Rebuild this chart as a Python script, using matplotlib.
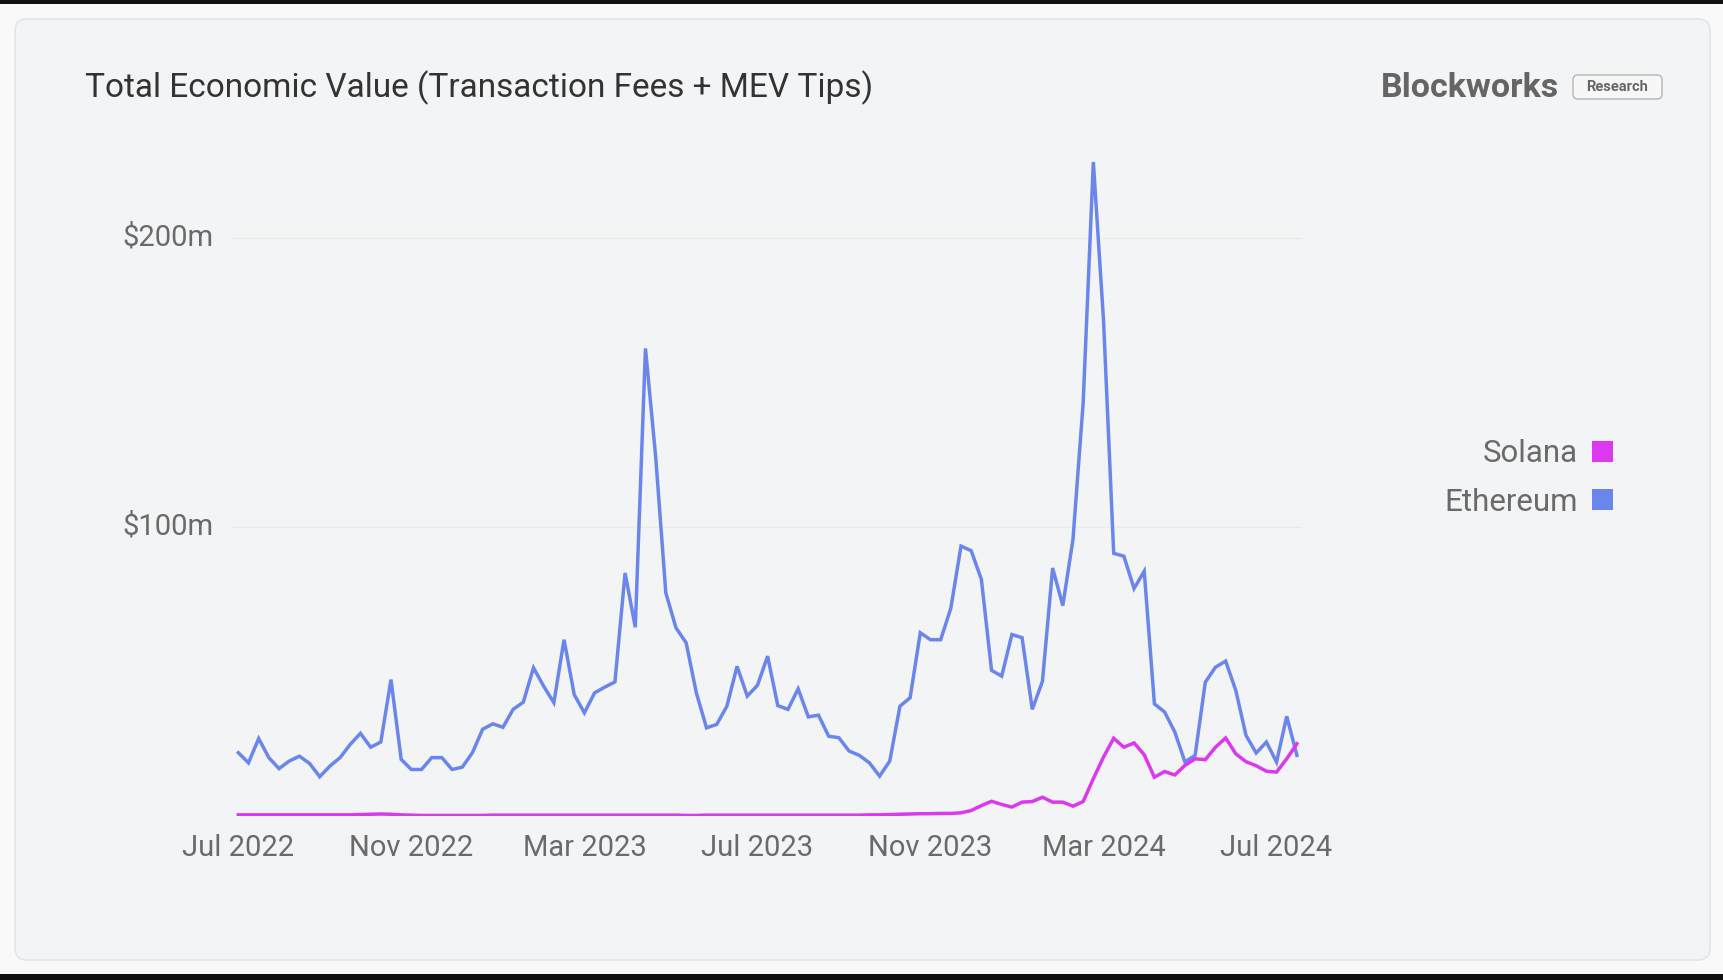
import matplotlib
matplotlib.use("Agg")
import matplotlib.pyplot as plt
import matplotlib.transforms as mtransforms
from matplotlib.patches import FancyBboxPatch, Rectangle, Patch
import numpy as np

# ================= DATA =================
# weekly values, $m, Jul 2022 -> Jul 2024 (one point per week)
ETHEREUM = [
    22.0, 18.5, 26.9, 20.3, 16.5, 19.1, 20.8, 18.3, 13.7, 17.4,
    20.3, 24.9, 28.7, 23.9, 25.7, 47.3, 19.7, 16.2, 16.2, 20.3,
    20.3, 16.2, 17.0, 22.0, 30.1, 32.0, 30.8, 37.0, 39.5, 51.4,
    45.0, 39.3, 61.1, 42.1, 35.8, 42.7, 44.7, 46.5, 84.2, 65.4,
    161.9, 124.5, 77.3, 65.2, 60.0, 42.7, 30.6, 31.8, 38.1, 51.9,
    41.6, 45.3, 55.4, 38.3, 37.0, 44.1, 34.4, 35.0, 27.7, 27.2,
    22.6, 21.1, 18.5, 13.9, 19.1, 38.1, 41.0, 63.5, 61.1, 61.1,
    72.0, 93.5, 91.9, 82.0, 50.5, 48.5, 62.9, 61.8, 37.0, 46.7,
    85.9, 72.9, 95.8, 143.0, 226.4, 171.7, 91.0, 90.0, 78.8, 84.8,
    38.9, 36.1, 29.2, 18.8, 21.1, 46.4, 51.6, 53.7, 43.5, 28.0,
    21.9, 25.7, 18.8, 34.6, 21.1,
]

SOLANA = [
    0.5, 0.5, 0.5, 0.5, 0.5, 0.5, 0.5, 0.5, 0.5, 0.5,
    0.5, 0.5, 0.6, 0.7, 0.8, 0.7, 0.5, 0.4, 0.3, 0.3,
    0.3, 0.3, 0.3, 0.3, 0.3, 0.4, 0.4, 0.4, 0.4, 0.4,
    0.4, 0.4, 0.4, 0.4, 0.4, 0.4, 0.4, 0.4, 0.4, 0.4,
    0.4, 0.4, 0.4, 0.4, 0.3, 0.3, 0.4, 0.4, 0.4, 0.4,
    0.4, 0.4, 0.4, 0.4, 0.4, 0.4, 0.4, 0.4, 0.4, 0.4,
    0.4, 0.4, 0.5, 0.5, 0.6, 0.7, 0.8, 0.9, 0.9, 1.0,
    1.0, 1.2, 2.0, 3.7, 5.2, 4.1, 3.2, 4.9, 5.1, 6.6,
    4.9, 4.9, 3.5, 5.1, 13.0, 20.5, 27.0, 23.9, 25.4, 21.3,
    13.5, 15.5, 14.3, 17.6, 19.9, 19.6, 23.9, 27.1, 21.6, 18.9,
    17.5, 15.6, 15.3, 19.9, 25.1,
]

TICK_LABELS = ["Jul 2022", "Nov 2022", "Mar 2023", "Jul 2023",
               "Nov 2023", "Mar 2024", "Jul 2024"]
TICK_EVERY = 17  # label every 17th week

Y_TICKS = [100, 200]
Y_LABELS = ["$100m", "$200m"]

TITLE = "Total Economic Value (Transaction Fees + MEV Tips)"
# =========================================

ETH_COLOR = "#6a86ec"
SOL_COLOR = "#dc38f0"
TEXT_GREY = "#6a6a6a"

plt.rcParams["font.family"] = ["Roboto", "DejaVu Sans"]

W, H = 1724, 980
fig = plt.figure(figsize=(W / 100, H / 100), dpi=100, facecolor="#f9f9f9")

# screenshot frame: black bands + rounded card (kept behind the axes)
fig.add_artist(Rectangle((0, 1 - 4 / H), 1, 4 / H, transform=fig.transFigure,
                         color="#111111", lw=0, zorder=-10))
fig.add_artist(Rectangle((0, 0), 1, 6 / H, transform=fig.transFigure,
                         color="#111111", lw=0, zorder=-10))
fig.add_artist(FancyBboxPatch((0.15, 0.20), 16.95, 9.41,
                              boxstyle="round,pad=0,rounding_size=0.12",
                              transform=fig.dpi_scale_trans,
                              fc="#f3f4f6", ec="#e4e5e8", lw=1.2,
                              zorder=-10))

# title + branding
fig.text(85 / W, 1 - 97 / H, TITLE, fontsize=24, color="#333333",
         va="baseline", ha="left")
fig.text(1381 / W, 1 - 88 / H, "Blockworks", fontsize=24.5, weight="bold",
         color="#656565", va="center", ha="left")
fig.add_artist(FancyBboxPatch((15.73, 8.81), 0.89, 0.24,
                              boxstyle="round,pad=0,rounding_size=0.05",
                              transform=fig.dpi_scale_trans,
                              fc="#f7f7f8", ec="#b5b5b5", lw=1))
fig.text(1617 / W, 1 - 87 / H, "Research", fontsize=10.5, weight="bold",
         color="#666666", va="center", ha="center")

# plot area
ax = fig.add_axes([232 / W, 163.7 / H, 1070 / W, 664.7 / H])
ax.set_facecolor("none")

x = np.arange(len(ETHEREUM))
ax.plot(x, ETHEREUM, color=ETH_COLOR, lw=2.5, solid_joinstyle="miter",
        zorder=3)
ax.plot(x, SOLANA, color=SOL_COLOR, lw=2.5, solid_joinstyle="miter",
        zorder=4)

ax.set_xlim(-0.62, 104.5)
ax.set_ylim(0, 230)

ax.set_xticks(np.arange(len(TICK_LABELS)) * TICK_EVERY)
ax.set_xticklabels(TICK_LABELS)
ax.set_yticks(Y_TICKS)
ax.set_yticklabels(Y_LABELS)
ax.tick_params(axis="x", length=0, pad=13, labelsize=21, colors=TEXT_GREY)
ax.tick_params(axis="y", length=0, pad=13, labelsize=21, colors=TEXT_GREY)

# y labels sit a little above their gridline
lift = mtransforms.ScaledTranslation(0, 4 / 100, fig.dpi_scale_trans)
for lab in ax.get_yticklabels():
    lab.set_transform(lab.get_transform() + lift)

ax.grid(axis="y", color="#ebebe5", lw=1)
ax.set_axisbelow(True)
for s in ax.spines.values():
    s.set_visible(False)

# legend (square swatches on the right of the text)
handles = [Patch(facecolor=SOL_COLOR, edgecolor="none", label="Solana"),
           Patch(facecolor=ETH_COLOR, edgecolor="none", label="Ethereum")]
leg = ax.legend(handles=handles, loc="center right",
                bbox_to_anchor=(1613 / W, 1 - 478 / H),
                bbox_transform=fig.transFigure,
                frameon=False, markerfirst=False, fontsize=22.5,
                handlelength=0.66, handleheight=0.66, handletextpad=0.45,
                labelspacing=0.62, borderpad=0, borderaxespad=0)
for t in leg.get_texts():
    t.set_color(TEXT_GREY)

fig.savefig("out.png", dpi=100, facecolor=fig.get_facecolor())
